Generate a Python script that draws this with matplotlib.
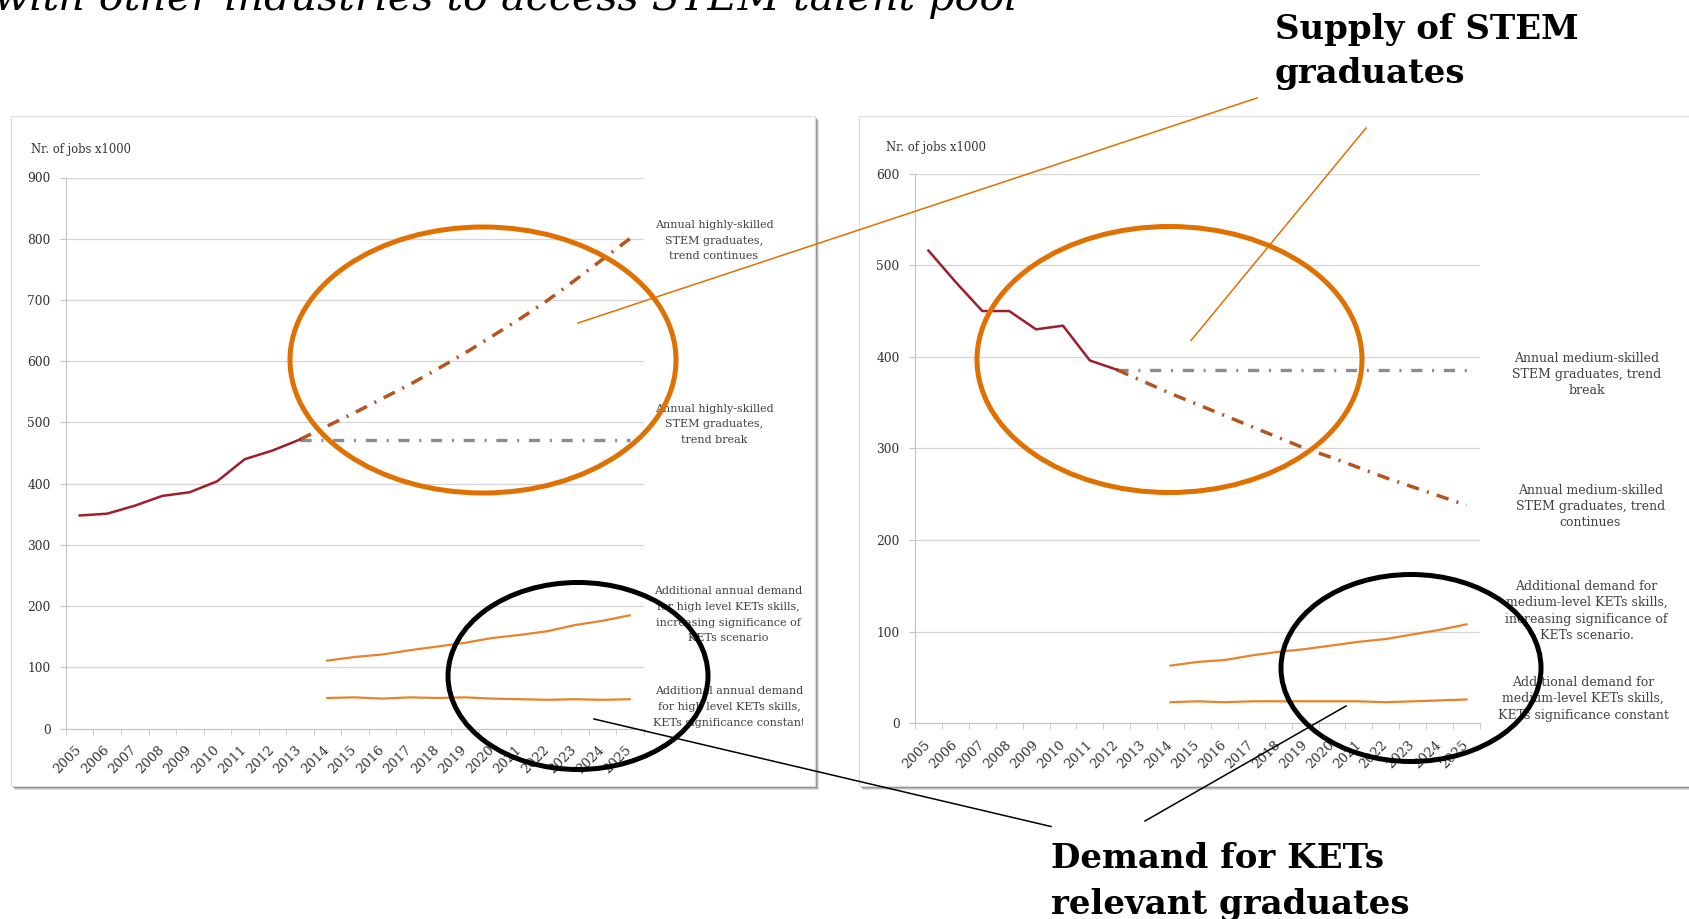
import matplotlib
matplotlib.use("Agg")
import matplotlib.pyplot as plt
from matplotlib.patches import Rectangle, Ellipse
from matplotlib.transforms import Bbox, TransformedBbox

plt.rcParams["font.family"] = "DejaVu Serif"
plt.rcParams["lines.scale_dashes"] = False

W, H = 1690, 919

# ---------------- data (Nr. of jobs x1000) ----------------
YEARS = ["2005", "2006", "2007", "2008", "2009", "2010", "2011", "2012", "2013",
         "2014", "2015", "2016", "2017", "2018", "2019", "2020", "2021", "2022",
         "2023", "2024", "2025"]

# left chart: highly-skilled
HS_HIST = [348, 351, 364, 380, 386, 404, 440, 454, 472]                       # 2005-2013
HS_TREND = [472, 494, 516, 539, 562, 587, 613, 641, 669, 699, 732, 766, 800]   # 2013-2025
HS_BREAK = [472, 472, 472, 472, 472, 472, 472, 472, 472, 472, 472, 472, 472]   # 2013-2025
HS_DEM_INC = [111, 117, 121, 128, 134, 140, 148, 153, 159, 169, 176, 185]      # 2014-2025
HS_DEM_CONST = [50, 51, 49, 51, 50, 51, 49, 48, 47, 48, 47, 48]                # 2014-2025

# right chart: medium-skilled
MS_HIST = [516, 482, 450, 450, 430, 434, 396, 386]                             # 2005-2012
MS_TREND = [386, 373, 360, 348, 336, 324, 312, 300, 290, 279, 268, 258, 248, 238]  # 2012-2025
MS_BREAK = [386, 386, 386, 386, 386, 386, 386, 386, 386, 386, 386, 386, 386, 386]  # 2012-2025
MS_DEM_INC = [63, 67, 69, 74, 78, 81, 85, 89, 92, 97, 102, 108]                # 2014-2025
MS_DEM_CONST = [23, 24, 23, 24, 24, 24, 24, 24, 23, 24, 25, 26]                # 2014-2025

LEFT_NOTES = [
    ["Annual highly-skilled", "STEM graduates,", "trend continues"],
    ["Annual highly-skilled", "STEM graduates,", "trend break"],
    ["Additional annual demand", "for high level KETs skills,",
     "increasing significance of", "KETs scenario"],
    ["Additional annual demand", "for high level KETs skills,",
     "KETs significance constant"],
]
RIGHT_NOTES = [
    ["Annual medium-skilled", "STEM graduates, trend", "break"],
    ["Annual medium-skilled", "STEM graduates, trend", "continues"],
    ["Additional demand for", "medium-level KETs skills,",
     "increasing significance of", "KETs scenario."],
    ["Additional demand for", "medium-level KETs skills,",
     "KETs significance constant"],
]
Y_LABEL = "Nr. of jobs x1000"

RED = "#9e1f2b"
BROWN = "#b4541e"
GREY = "#8c8c8c"
ORANGE = "#e9822b"
HILITE = "#e07000"


def px_axes(fig, x0, y0, x1, y1, **kw):
    # axes placed by pixel box (top-left origin)
    return fig.add_axes([x0 / W, 1 - y1 / H, (x1 - x0) / W, (y1 - y0) / H], **kw)


def series(ax, start, values, **kw):
    i0 = YEARS.index(start)
    ax.plot(range(i0, i0 + len(values)), values, **kw)


def setup_axes(ax, ymax, step):
    ax.patch.set_alpha(0)
    ax.set_xlim(-0.5, len(YEARS) - 0.5)
    ax.set_ylim(0, ymax)
    ax.set_yticks(range(0, ymax + 1, step))
    ax.grid(axis="y", color="#d6d6d6", lw=0.9)
    ax.set_axisbelow(True)
    for s in ("top", "right"):
        ax.spines[s].set_visible(False)
    for s in ("left", "bottom"):
        ax.spines[s].set_color("#c4c4c4")
    ax.set_xticks(range(len(YEARS)))
    ax.set_xticklabels(YEARS, rotation=45, ha="right", va="center",
                       rotation_mode="anchor")
    ax.set_xticks([i - 0.5 for i in range(len(YEARS) + 1)], minor=True)
    ax.tick_params(axis="x", which="major", length=0, pad=14,
                   labelsize=9.5, labelcolor="#333333")
    ax.tick_params(axis="x", which="minor", length=4, color="#c4c4c4")
    ax.tick_params(axis="y", length=4, color="#c4c4c4", pad=7,
                   labelsize=8.8, labelcolor="#333333")


fig = plt.figure(figsize=(W / 100, H / 100), dpi=100)

bg = px_axes(fig, 0, 0, W, H, zorder=-1)
bg.set_xlim(0, W); bg.set_ylim(H, 0); bg.axis("off")
ov = px_axes(fig, 0, 0, W, H, zorder=10)
ov.set_xlim(0, W); ov.set_ylim(H, 0); ov.axis("off")
ov.patch.set_alpha(0)


def panel(x0, y0, x1, y1):
    for k, a in ((5, 0.18), (4, 0.28), (3, 0.4)):
        bg.add_patch(Rectangle((x0 + k - 1, y0 + k - 1), x1 - x0, y1 - y0,
                               fc="#555555", ec="none", alpha=a))
    bg.add_patch(Rectangle((x0, y0), x1 - x0, y1 - y0, fc="white",
                           ec="#dcdcdc", lw=0.8))


panel(11, 116, 815, 786)
panel(859, 116, 1700, 786)

# ---------------- left chart ----------------
axl = px_axes(fig, 66, 177.5, 643.5, 728.6)
setup_axes(axl, 900, 100)
series(axl, "2013", HS_BREAK, color=GREY, lw=2.4, ls=(0, (8, 7, 1.5, 7)))
series(axl, "2013", HS_TREND, color=BROWN, lw=2.5, ls=(0, (9, 6, 1.5, 6)))
series(axl, "2005", HS_HIST, color=RED, lw=1.8)
series(axl, "2014", HS_DEM_INC, color=ORANGE, lw=1.6)
series(axl, "2014", HS_DEM_CONST, color=ORANGE, lw=1.6)

# ---------------- right chart ----------------
axr = px_axes(fig, 915, 173.6, 1480, 723.3)
setup_axes(axr, 600, 100)
series(axr, "2012", MS_BREAK, color=GREY, lw=2.4, ls=(0, (8, 7, 1.5, 7)))
series(axr, "2012", MS_TREND, color=BROWN, lw=2.5, ls=(0, (9, 6, 1.5, 6)))
series(axr, "2005", MS_HIST, color=RED, lw=1.8)
series(axr, "2014", MS_DEM_INC, color=ORANGE, lw=1.6)
series(axr, "2014", MS_DEM_CONST, color=ORANGE, lw=1.6)

# ---------------- panel texts ----------------
ov.text(31, 149, Y_LABEL, fontsize=8.3, color="#333333", va="center")
ov.text(886, 148, Y_LABEL, fontsize=8.3, color="#333333", va="center")

clip_left = TransformedBbox(Bbox.from_extents(0, 0, 803 / W, 1), fig.transFigure)


def note(x, y, lines, size, step, clip=None):
    for k, line in enumerate(lines):
        t = ov.text(x, y + k * step, line, fontsize=size, color="#404040",
                    ha="center", va="center")
        if clip is not None:
            t.set_clip_box(clip)
            t.set_clip_on(True)


for (x, y), lines in zip([(714, 225), (714, 408.5), (728, 591.5), (729, 691.5)], LEFT_NOTES):
    note(x, y, lines, 8.0, 15.6, clip_left)
for (x, y), lines in zip([(1586.5, 358), (1590.5, 490), (1586.5, 586), (1583, 682)], RIGHT_NOTES):
    note(x, y, lines, 9.0, 16.5)

# ---------------- highlights ----------------
ov.add_patch(Ellipse((483, 360), 386, 266, fill=False, ec=HILITE, lw=3.6, zorder=5))
ov.add_patch(Ellipse((1169.5, 359.5), 385, 266, fill=False, ec=HILITE, lw=3.6, zorder=5))
ov.add_patch(Ellipse((578, 676), 260, 187, fill=False, ec="black", lw=3.6, zorder=5))
ov.add_patch(Ellipse((1411, 668), 260, 187, fill=False, ec="black", lw=3.6, zorder=5))

ov.plot([1257, 578], [98, 323], color=HILITE, lw=1.1, zorder=5)
ov.plot([1366, 1191], [128, 340.5], color=HILITE, lw=1.1, zorder=5)
ov.plot([594, 1051], [719, 826.5], color="black", lw=1.1, zorder=5)
ov.plot([1346, 1145], [706, 821], color="black", lw=1.1, zorder=5)

ov.text(1275, 38.8, "Supply of STEM", fontsize=24.5, fontweight="bold", va="baseline")
ov.text(1275, 83, "graduates", fontsize=24.5, fontweight="bold", va="baseline")
ov.text(1051, 868, "Demand for KETs", fontsize=24.5, fontweight="bold", va="baseline")
ov.text(1051, 914, "relevant graduates", fontsize=24.5, fontweight="bold", va="baseline")

# heading of the slide, cut off by the top edge as in the source
ov.text(-6, 10, "with other industries to access STEM talent pool",
        fontsize=29.7, style="italic", va="baseline")

fig.savefig("out.png", dpi=100)
